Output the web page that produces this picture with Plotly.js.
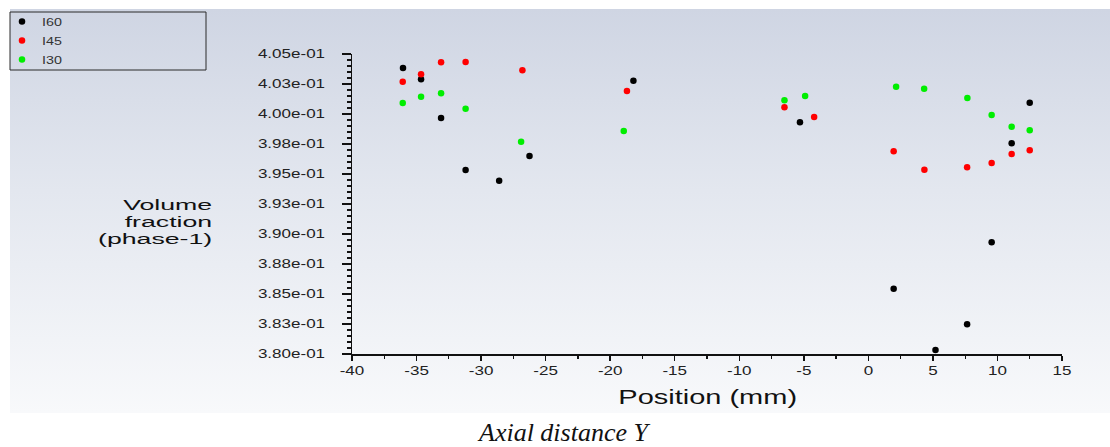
<!DOCTYPE html>
<html>
<head>
<meta charset="utf-8">
<script src="https://cdn.plot.ly/plotly-3.0.1.min.js"></script>
<style>
  html, body { margin: 0; padding: 0; background: #ffffff; }
  #wrap { position: relative; width: 1110px; height: 447px; }
  #bg { position: absolute; left: 10px; top: 9px; width: 1100px; height: 404px;
        background: linear-gradient(to bottom, #cfd5e3 0%, #e3e7ef 45%, #f8f9fb 100%); }
  #chart { position: absolute; left: 0; top: 0; width: 1110px; height: 447px; }
  /* the source image is horizontally stretched: widen the glyphs the same way */
  #chart g.ytick { transform-box: fill-box; transform-origin: right center; transform: scaleX(1.42); }
  #chart g.xtick { transform-box: fill-box; transform-origin: center; transform: scaleX(1.42); }
  #chart text.legendtext { transform-box: fill-box; transform-origin: left center; transform: scaleX(1.3); }
  #chart g.annotation[data-index="0"] text { transform-box: fill-box; transform-origin: right center; transform: scaleX(1.78); }
  #chart g.annotation[data-index="1"] text { transform-box: fill-box; transform-origin: center; transform: scaleX(1.45); }
</style>
</head>
<body>
<div id="wrap">
  <div id="bg"></div>
  <div id="chart"></div>
</div>
<script>
// Series data (Position in mm, Volume fraction of phase-1)
const i60_x = [-36.05, -34.65, -33.1, -31.2, -28.6, -26.25, -18.2, -5.3, 1.96, 5.2, 7.65, 9.55, 11.1, 12.5];
const i60_y = [0.40383, 0.40289, 0.39967, 0.39533, 0.39444, 0.3965, 0.40278, 0.39931, 0.38544, 0.38033, 0.38247, 0.38931, 0.39756, 0.40094];

const i45_x = [-36.07, -34.65, -33.1, -31.2, -26.8, -18.7, -6.5, -4.2, 1.96, 4.34, 7.65, 9.55, 11.1, 12.5];
const i45_y = [0.40269, 0.40331, 0.40431, 0.40433, 0.40364, 0.40192, 0.40056, 0.39975, 0.39689, 0.39536, 0.39556, 0.39592, 0.39667, 0.39697];

const i30_x = [-36.07, -34.65, -33.1, -31.2, -26.9, -18.95, -6.5, -4.9, 2.15, 4.32, 7.67, 9.55, 11.1, 12.5];
const i30_y = [0.40092, 0.40144, 0.40172, 0.40044, 0.39769, 0.39858, 0.40114, 0.4015, 0.40228, 0.40211, 0.40133, 0.39992, 0.39894, 0.39864];

const seriesNames = ["I60", "I45", "I30"];
const seriesColors = ["#000000", "#ff0000", "#00ee00"];

const yTickVals = [0.38, 0.3825, 0.385, 0.3875, 0.39, 0.3925, 0.395, 0.3975, 0.40, 0.4025, 0.405];
const yTickText = ["3.80e-01", "3.83e-01", "3.85e-01", "3.88e-01", "3.90e-01", "3.93e-01", "3.95e-01", "3.98e-01", "4.00e-01", "4.03e-01", "4.05e-01"];
const xTickVals = [-40, -35, -30, -25, -20, -15, -10, -5, 0, 5, 10, 15];

const yTitleLines = ["Volume", "fraction", "(phase-1)"];
const xTitle = "Position (mm)";
const caption = "Axial distance Y";

const xs = [i60_x, i45_x, i30_x];
const ys = [i60_y, i45_y, i30_y];

const traces = seriesNames.map((n, k) => ({
  type: "scatter",
  mode: "markers",
  name: n,
  x: xs[k],
  y: ys[k],
  cliponaxis: false,
  marker: { color: seriesColors[k], size: 6.5, symbol: "circle", line: { width: 0 } }
}));

// plot area geometry (px)
const L = 352, R = 48, T = 54, B = 93;
const W = 1110 - L - R, H = 447 - T - B;
const px = v => (v - L) / W;
const py = v => (447 - B - v) / H;

const font = "Liberation Sans, Arial, sans-serif";

// tight line spacing: the line tspans carry a small base size, glyphs use a larger span size
const yTitleText = yTitleLines.map(t => '<span style="font-size:15px">' + t + '</span>').join("<br>");

const annotations = [
  { xref: "paper", yref: "paper", x: px(213), y: py(221), xanchor: "right", yanchor: "middle",
    text: yTitleText, showarrow: false, align: "right", borderpad: 0,
    font: { family: font, size: 12.9, color: "#111111" } },
  { xref: "paper", yref: "paper", x: px(707), y: py(397), xanchor: "center", yanchor: "middle",
    text: xTitle, showarrow: false,
    font: { family: font, size: 20, color: "#111111" } },
  { xref: "paper", yref: "paper", x: px(564), y: py(432), xanchor: "center", yanchor: "middle",
    text: "<i>" + caption + "</i>", showarrow: false,
    font: { family: "Liberation Serif, Times New Roman, serif", size: 26, color: "#111111" } }
];

const layout = {
  width: 1110,
  height: 447,
  margin: { l: L, r: R, t: T, b: B, pad: 0, autoexpand: false },
  paper_bgcolor: "rgba(0,0,0,0)",
  plot_bgcolor: "rgba(0,0,0,0)",
  font: { family: font, color: "#222222", size: 12 },
  showlegend: true,
  legend: {
    x: px(2), y: py(7), xanchor: "left", yanchor: "top",
    bgcolor: "rgba(0,0,0,0)", borderwidth: 0,
    font: { family: font, size: 11, color: "#333333" },
    tracegroupgap: 0, itemwidth: 30
  },
  xaxis: {
    range: [-40, 15],
    tickvals: xTickVals,
    ticktext: xTickVals.map(String),
    showgrid: false, zeroline: false,
    showline: true, linecolor: "#111111", linewidth: 1.5,
    ticks: "outside", ticklen: 5, tickwidth: 1.5, tickcolor: "#111111",
    minor: { dtick: 2.5, tick0: 0, ticks: "outside", ticklen: 3, tickwidth: 1.2, tickcolor: "#111111", showgrid: false },
    tickfont: { family: font, size: 12, color: "#222222" },
    automargin: false,
    fixedrange: true
  },
  yaxis: {
    range: [0.38, 0.405],
    tickvals: yTickVals,
    ticktext: yTickText,
    showgrid: false, zeroline: false,
    showline: true, linecolor: "#111111", linewidth: 1.5,
    ticks: "outside", ticklen: 9, tickwidth: 1.5, tickcolor: "#111111",
    minor: { dtick: 0.0005, tick0: 0.38, ticks: "outside", ticklen: 4, tickwidth: 1.2, tickcolor: "#111111", showgrid: false },
    tickfont: { family: font, size: 12, color: "#222222" },
    ticklabelstandoff: 14,
    automargin: false,
    fixedrange: true
  },
  shapes: [
    { type: "rect", xref: "paper", yref: "paper",
      x0: px(10), x1: px(206), y0: py(70), y1: py(12),
      line: { color: "#2a2a2a", width: 1 }, fillcolor: "rgba(0,0,0,0)" }
  ],
  annotations: annotations
};

Plotly.newPlot("chart", traces, layout, { displayModeBar: false, staticPlot: true });
</script>
</body>
</html>
